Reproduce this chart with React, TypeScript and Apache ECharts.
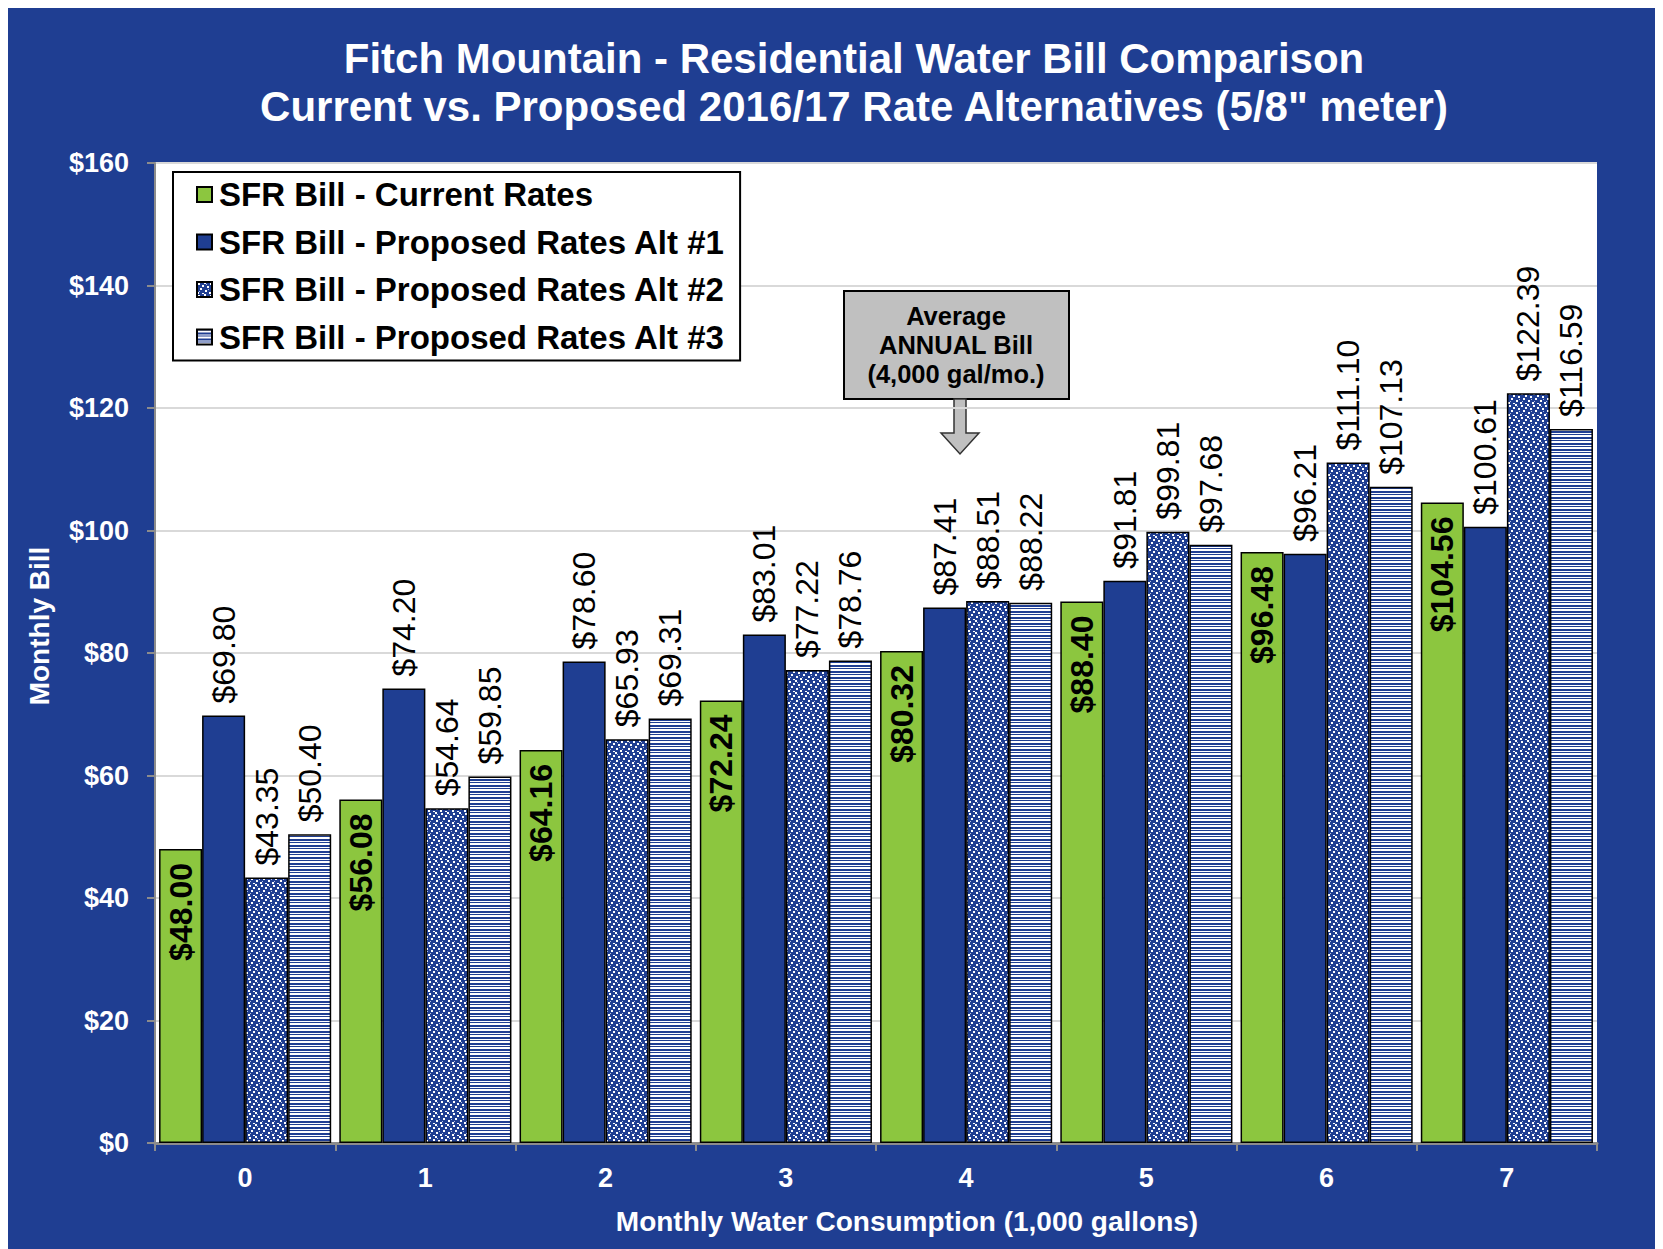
import React, { useEffect, useRef } from "react";
import * as echarts from "echarts";

const categories = ["0", "1", "2", "3", "4", "5", "6", "7"];
const currentRates = [48.0, 56.08, 64.16, 72.24, 80.32, 88.4, 96.48, 104.56];
const alt1 = [69.8, 74.2, 78.6, 83.01, 87.41, 91.81, 96.21, 100.61];
const alt2 = [43.35, 54.64, 65.93, 77.22, 88.51, 99.81, 111.1, 122.39];
const alt3 = [50.4, 59.85, 69.31, 78.76, 88.22, 97.68, 107.13, 116.59];
const seriesNames = [
  "SFR Bill - Current Rates",
  "SFR Bill - Proposed Rates Alt #1",
  "SFR Bill - Proposed Rates Alt #2",
  "SFR Bill - Proposed Rates Alt #3",
];

const BLUE = "#1f3e92";
const GREEN = "#8cc63f";
const FONT = "'Liberation Sans', Arial, sans-serif";

function dotPattern() {
  const c = document.createElement("canvas");
  c.width = 12;
  c.height = 12;
  const g = c.getContext("2d")!;
  g.fillStyle = BLUE;
  g.fillRect(0, 0, 12, 12);
  g.fillStyle = "#ffffff";
  const dots = [
    [1, 1], [7, 0], [10, 4], [3, 6], [8, 8], [0, 10], [5, 3], [5, 11],
  ];
  dots.forEach(([x, y]) => g.fillRect(x, y, 2, 2));
  g.fillStyle = "#b4c0e2";
  [[2, 9], [9, 2], [11, 7]].forEach(([x, y]) => g.fillRect(x, y, 1, 1));
  return { image: c.toDataURL(), repeat: "repeat", imageWidth: 12, imageHeight: 12 };
}

function stripePattern() {
  const c = document.createElement("canvas");
  c.width = 4;
  c.height = 6;
  const g = c.getContext("2d")!;
  const rows = [BLUE, "#ffffff", "#ffffff", BLUE, BLUE, "#ffffff"];
  rows.forEach((col, i) => {
    g.fillStyle = col;
    g.fillRect(0, i, 4, 1);
  });
  return { image: c.toDataURL(), repeat: "repeat", imageWidth: 4, imageHeight: 6 };
}

export default function App() {
  const ref = useRef<HTMLDivElement>(null);

  useEffect(() => {
    document.documentElement.style.overflow = "hidden";
    const chart = echarts.init(ref.current!, undefined, { renderer: "svg" });
    const dots = dotPattern();
    const stripes = stripePattern();

    const outsideLabel = {
      show: true,
      position: "top",
      rotate: 90,
      align: "left",
      verticalAlign: "middle",
      distance: 12,
      color: "#000",
      fontSize: 32,
      fontFamily: FONT,
      formatter: (p: any) => "$" + p.value.toFixed(2),
    };

    const barBorder = { borderColor: "#000", borderWidth: 1.5 };

    chart.setOption({
      animation: false,
      backgroundColor: BLUE,
      textStyle: { fontFamily: FONT },
      grid: {
        left: 147,
        right: 66,
        top: 155,
        bottom: 106,
        show: true,
        backgroundColor: "#ffffff",
        borderWidth: 0,
      },
      legend: {
        orient: "vertical",
        left: 165,
        top: 164,
        backgroundColor: "#ffffff",
        borderColor: "#000",
        borderWidth: 2,
        padding: [6, 15, 7, 23],
        itemGap: 14.5,
        itemWidth: 15,
        itemHeight: 15,
        icon: "rect",
        textStyle: {
          color: "#000",
          fontSize: 33,
          fontWeight: "bold",
          fontFamily: FONT,
          lineHeight: 32,
          padding: [0, 0, 0, 2],
        },
        data: seriesNames,
      },
      xAxis: {
        type: "category",
        data: categories,
        axisLine: { lineStyle: { color: "#8c8c8c", width: 3 } },
        axisTick: { show: true, length: 8, lineStyle: { color: "#8c8c8c", width: 2 } },
        axisLabel: {
          color: "#fff",
          fontSize: 27,
          fontWeight: "bold",
          margin: 21,
          fontFamily: FONT,
        },
      },
      yAxis: {
        type: "value",
        min: 0,
        max: 160,
        interval: 20,
        axisLine: { show: true, lineStyle: { color: "#8c8c8c", width: 2 } },
        axisTick: { show: true, length: 8, lineStyle: { color: "#8c8c8c", width: 2 } },
        splitLine: { lineStyle: { color: "#d9d9d9", width: 2 } },
        axisLabel: {
          color: "#fff",
          fontSize: 27,
          fontWeight: "bold",
          margin: 26,
          fontFamily: FONT,
          formatter: (v: number) => "$" + v,
        },
      },
      series: [
        {
          name: seriesNames[0],
          type: "bar",
          data: currentRates,
          barGap: "0%",
          barCategoryGap: "4.5%",
          itemStyle: { color: GREEN, ...barBorder },
          label: {
            show: true,
            position: "insideTop",
            rotate: 90,
            align: "right",
            verticalAlign: "middle",
            distance: 14,
            color: "#000",
            fontSize: 32,
            fontWeight: "bold",
            fontFamily: FONT,
            formatter: (p: any) => "$" + p.value.toFixed(2),
          },
        },
        {
          name: seriesNames[1],
          type: "bar",
          data: alt1,
          barGap: "0%",
          barCategoryGap: "4.5%",
          itemStyle: { color: BLUE, ...barBorder },
          label: outsideLabel,
        },
        {
          name: seriesNames[2],
          type: "bar",
          data: alt2,
          barGap: "0%",
          barCategoryGap: "4.5%",
          itemStyle: { color: dots, ...barBorder },
          label: outsideLabel,
        },
        {
          name: seriesNames[3],
          type: "bar",
          data: alt3,
          barGap: "0%",
          barCategoryGap: "4.5%",
          itemStyle: { color: stripes, ...barBorder },
          label: outsideLabel,
        },
      ],
      graphic: [
        {
          type: "text",
          style: {
            x: 846,
            y: 50,
            text: "Fitch Mountain - Residential Water Bill Comparison",
            fill: "#fff",
            font: `bold 42px ${FONT}`,
            align: "center",
            verticalAlign: "middle",
          },
        },
        {
          type: "text",
          style: {
            x: 846,
            y: 98,
            text: "Current vs. Proposed 2016/17 Rate Alternatives (5/8\" meter)",
            fill: "#fff",
            font: `bold 42px ${FONT}`,
            align: "center",
            verticalAlign: "middle",
          },
        },
        {
          type: "text",
          style: {
            x: 899,
            y: 1213,
            text: "Monthly Water Consumption (1,000 gallons)",
            fill: "#fff",
            font: `bold 28px ${FONT}`,
            align: "center",
            verticalAlign: "middle",
          },
        },
        {
          type: "text",
          x: 31,
          y: 618,
          rotation: Math.PI / 2,
          style: {
            x: 0,
            y: 0,
            text: "Monthly Bill",
            fill: "#fff",
            font: `bold 28px ${FONT}`,
            align: "center",
            verticalAlign: "middle",
          },
        },
        {
          type: "rect",
          shape: { x: 836, y: 283, width: 225, height: 108 },
          style: { fill: "#c0c0c0", stroke: "#000", lineWidth: 2 },
        },
        {
          type: "text",
          style: {
            x: 948,
            y: 337,
            text: "Average\nANNUAL Bill\n(4,000 gal/mo.)",
            fill: "#000",
            font: `bold 25.5px ${FONT}`,
            lineHeight: 29,
            align: "center",
            verticalAlign: "middle",
          },
        },
        {
          type: "polygon",
          shape: {
            points: [
              [946, 391],
              [958, 391],
              [958, 425],
              [971, 425],
              [952, 446],
              [933, 425],
              [946, 425],
            ],
          },
          style: { fill: "#c0c0c0", stroke: "#333", lineWidth: 1.5 },
        },
      ],
    });
    return () => chart.dispose();
  }, []);

  return <div ref={ref} style={{ width: 1655, height: 1241 }} />;
}
